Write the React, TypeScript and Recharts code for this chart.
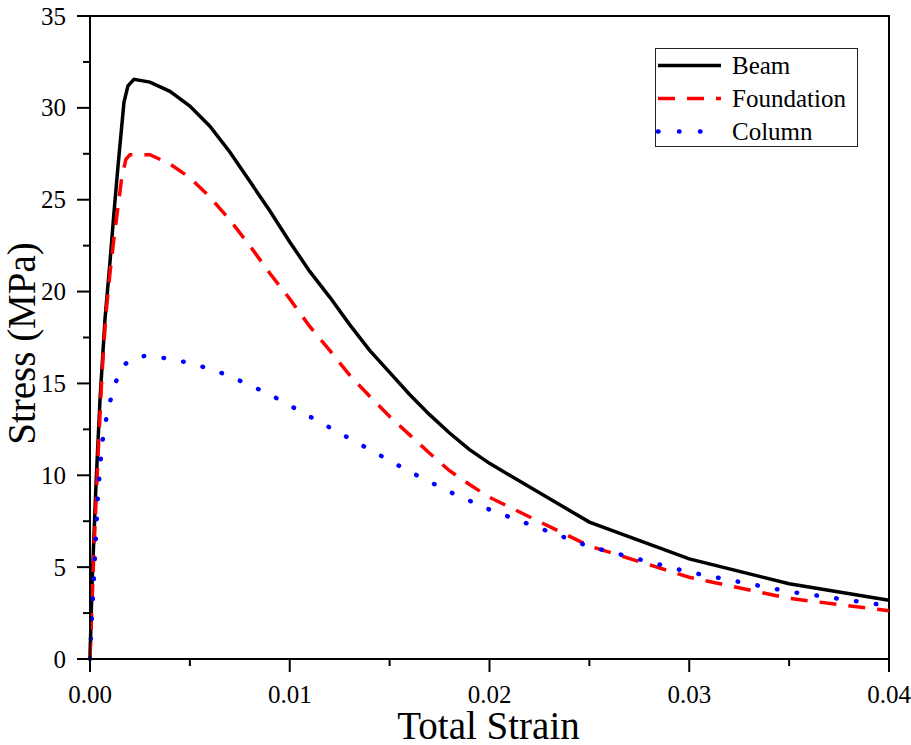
import React from "react";
import {
  LineChart,
  Line,
  XAxis,
  YAxis,
  Legend,
  Label,
  ReferenceArea,
} from "recharts";

// stress–strain curves
const beamStrain = [0, 0.0001, 0.0003, 0.0005, 0.00075, 0.001, 0.0012, 0.0014, 0.0017, 0.0019, 0.0022, 0.003, 0.004, 0.005, 0.006, 0.007, 0.008, 0.009, 0.01, 0.011, 0.012, 0.013, 0.014, 0.015, 0.016, 0.017, 0.018, 0.019, 0.02, 0.025, 0.03, 0.035, 0.04];
const beamStress = [0, 4, 9.5, 14.1, 18.5, 21.6, 24.3, 26.8, 30.3, 31.2, 31.55, 31.4, 30.9, 30.1, 29.0, 27.6, 26.0, 24.4, 22.7, 21.1, 19.7, 18.2, 16.8, 15.6, 14.4, 13.3, 12.3, 11.4, 10.65, 7.45, 5.45, 4.1, 3.2];

const foundationStrain = [0, 0.0001, 0.0002, 0.0004, 0.0006, 0.0008, 0.001, 0.0012, 0.0014, 0.0016, 0.0018, 0.002, 0.003, 0.004, 0.005, 0.006, 0.007, 0.008, 0.009, 0.01, 0.011, 0.012, 0.013, 0.014, 0.015, 0.016, 0.017, 0.018, 0.019, 0.02, 0.025, 0.03, 0.035, 0.04];
const foundationStress = [0, 3, 6, 11, 15.5, 18.8, 21, 22.9, 24.6, 26.3, 27.2, 27.45, 27.45, 26.95, 26.2, 25.15, 23.9, 22.5, 21.0, 19.6, 18.1, 16.8, 15.45, 14.3, 13.2, 12.2, 11.2, 10.25, 9.5, 8.8, 6.15, 4.45, 3.3, 2.63];

const columnStrain = [0, 0.0001, 0.0002, 0.0004, 0.0006, 0.0008, 0.001, 0.0013, 0.0017, 0.0022, 0.0028, 0.004, 0.005, 0.006, 0.007, 0.008, 0.009, 0.01, 0.012, 0.014, 0.016, 0.018, 0.02, 0.025, 0.03, 0.035, 0.04];
const columnStress = [0, 2.5, 4.5, 9, 11.7, 13.0, 14.0, 15.1, 16.0, 16.4, 16.5, 16.35, 16.1, 15.8, 15.4, 14.9, 14.4, 13.8, 12.6, 11.4, 10.2, 9.1, 8.13, 6.12, 4.73, 3.67, 2.89];

const xTicks = [0, 0.005, 0.01, 0.015, 0.02, 0.025, 0.03, 0.035, 0.04];
const yTicks = [0, 2.5, 5, 7.5, 10, 12.5, 15, 17.5, 20, 22.5, 25, 27.5, 30, 32.5, 35];

const FONT = "'Liberation Serif', 'Times New Roman', serif";

const toPoints = (xs: number[], ys: number[]) => xs.map((x, i) => ({ x, y: ys[i] }));

const series = [
  { name: "Beam", data: toPoints(beamStrain, beamStress), color: "#000000", width: 3.5, dash: undefined, cap: "butt" },
  { name: "Foundation", data: toPoints(foundationStrain, foundationStress), color: "#ff0000", width: 3.5, dash: "17 12", cap: "butt" },
  { name: "Column", data: toPoints(columnStrain, columnStress), color: "#0000ff", width: 4.5, dash: "0.5 19.5", cap: "round" },
];

const XTick = ({ x, y, payload }: any) => {
  const v = payload.value;
  const major = Math.round(v * 1000) % 10 === 0;
  return (
    <g>
      <line x1={x} y1={y} x2={x} y2={y + (major ? 13 : 7)} stroke="#000" strokeWidth={2} />
      {major && (
        <text x={x} y={y + 44} textAnchor="middle" fontSize={25} fontFamily={FONT} fill="#000">
          {v.toFixed(2)}
        </text>
      )}
    </g>
  );
};

const YTick = ({ x, y, payload }: any) => {
  const v = payload.value;
  const major = v % 5 === 0;
  return (
    <g>
      <line x1={x} y1={y} x2={x - (major ? 13 : 7)} y2={y} stroke="#000" strokeWidth={2} />
      {major && (
        <text x={x - 24} y={y + 8.5} textAnchor="end" fontSize={25} fontFamily={FONT} fill="#000">
          {v}
        </text>
      )}
    </g>
  );
};

const LegendBox = () => (
  <div
    style={{
      width: 201,
      height: 97,
      border: "1px solid #222",
      background: "#fff",
      fontFamily: FONT,
      fontSize: 25,
      color: "#000",
    }}
  >
    {series.map((s) => (
      <div key={s.name} style={{ display: "flex", alignItems: "center", height: 33 }}>
        <svg width={76} height={33} style={{ display: "block" }}>
          <line
            x1={2}
            y1={16.5}
            x2={65}
            y2={16.5}
            stroke={s.color}
            strokeWidth={s.width}
            strokeDasharray={s.name === "Column" ? "0.5 20.5" : s.dash}
            strokeLinecap={s.cap as any}
          />
        </svg>
        <span style={{ lineHeight: "33px" }}>{s.name}</span>
      </div>
    ))}
  </div>
);

export default function App() {
  return (
    <div style={{ position: "absolute", left: 0, top: 0, background: "#fff" }}>
      <LineChart width={911} height={745} margin={{ top: 16, right: 22, bottom: 0, left: 0 }}>
        <XAxis
          type="number"
          dataKey="x"
          domain={[0, 0.04]}
          ticks={xTicks}
          interval={0}
          tickSize={0}
          tickMargin={0}
          tick={<XTick />}
          height={86}
          axisLine={{ stroke: "#000", strokeWidth: 2 }}
          tickLine={false}
          allowDecimals
        >
          <Label
            content={({ viewBox }: any) => (
              <text
                x={viewBox.x + viewBox.width / 2 - 1}
                y={viewBox.y + 80}
                textAnchor="middle"
                fontSize={39}
                fontFamily={FONT}
                fill="#000"
              >
                Total Strain
              </text>
            )}
          />
        </XAxis>
        <YAxis
          type="number"
          dataKey="y"
          domain={[0, 35]}
          ticks={yTicks}
          interval={0}
          tickSize={0}
          tickMargin={0}
          tick={<YTick />}
          width={90}
          axisLine={{ stroke: "#000", strokeWidth: 2 }}
          tickLine={false}
        >
          <Label
            content={({ viewBox }: any) => {
              const cx = 35;
              const cy = viewBox.y + viewBox.height / 2 + 6;
              return (
                <text
                  x={cx}
                  y={cy}
                  transform={`rotate(-90 ${cx} ${cy})`}
                  textAnchor="middle"
                  fontSize={39}
                  fontFamily={FONT}
                  fill="#000"
                >
                  Stress (MPa)
                </text>
              );
            }}
          />
        </YAxis>
        <ReferenceArea x1={0} x2={0.04} y1={0} y2={35} fill="none" stroke="#000" strokeWidth={2} />
        {series.map((s) => (
          <Line
            key={s.name}
            data={s.data}
            dataKey="y"
            name={s.name}
            type="linear"
            stroke={s.color}
            strokeWidth={s.width}
            strokeDasharray={s.dash}
            strokeLinecap={s.cap as any}
            dot={false}
            activeDot={false}
            isAnimationActive={false}
          />
        ))}
        <Legend
          layout="vertical"
          align="center"
          verticalAlign="middle"
          content={<LegendBox />}
          wrapperStyle={{ left: 655, top: 48, width: 203, height: 99 }}
        />
      </LineChart>
    </div>
  );
}
